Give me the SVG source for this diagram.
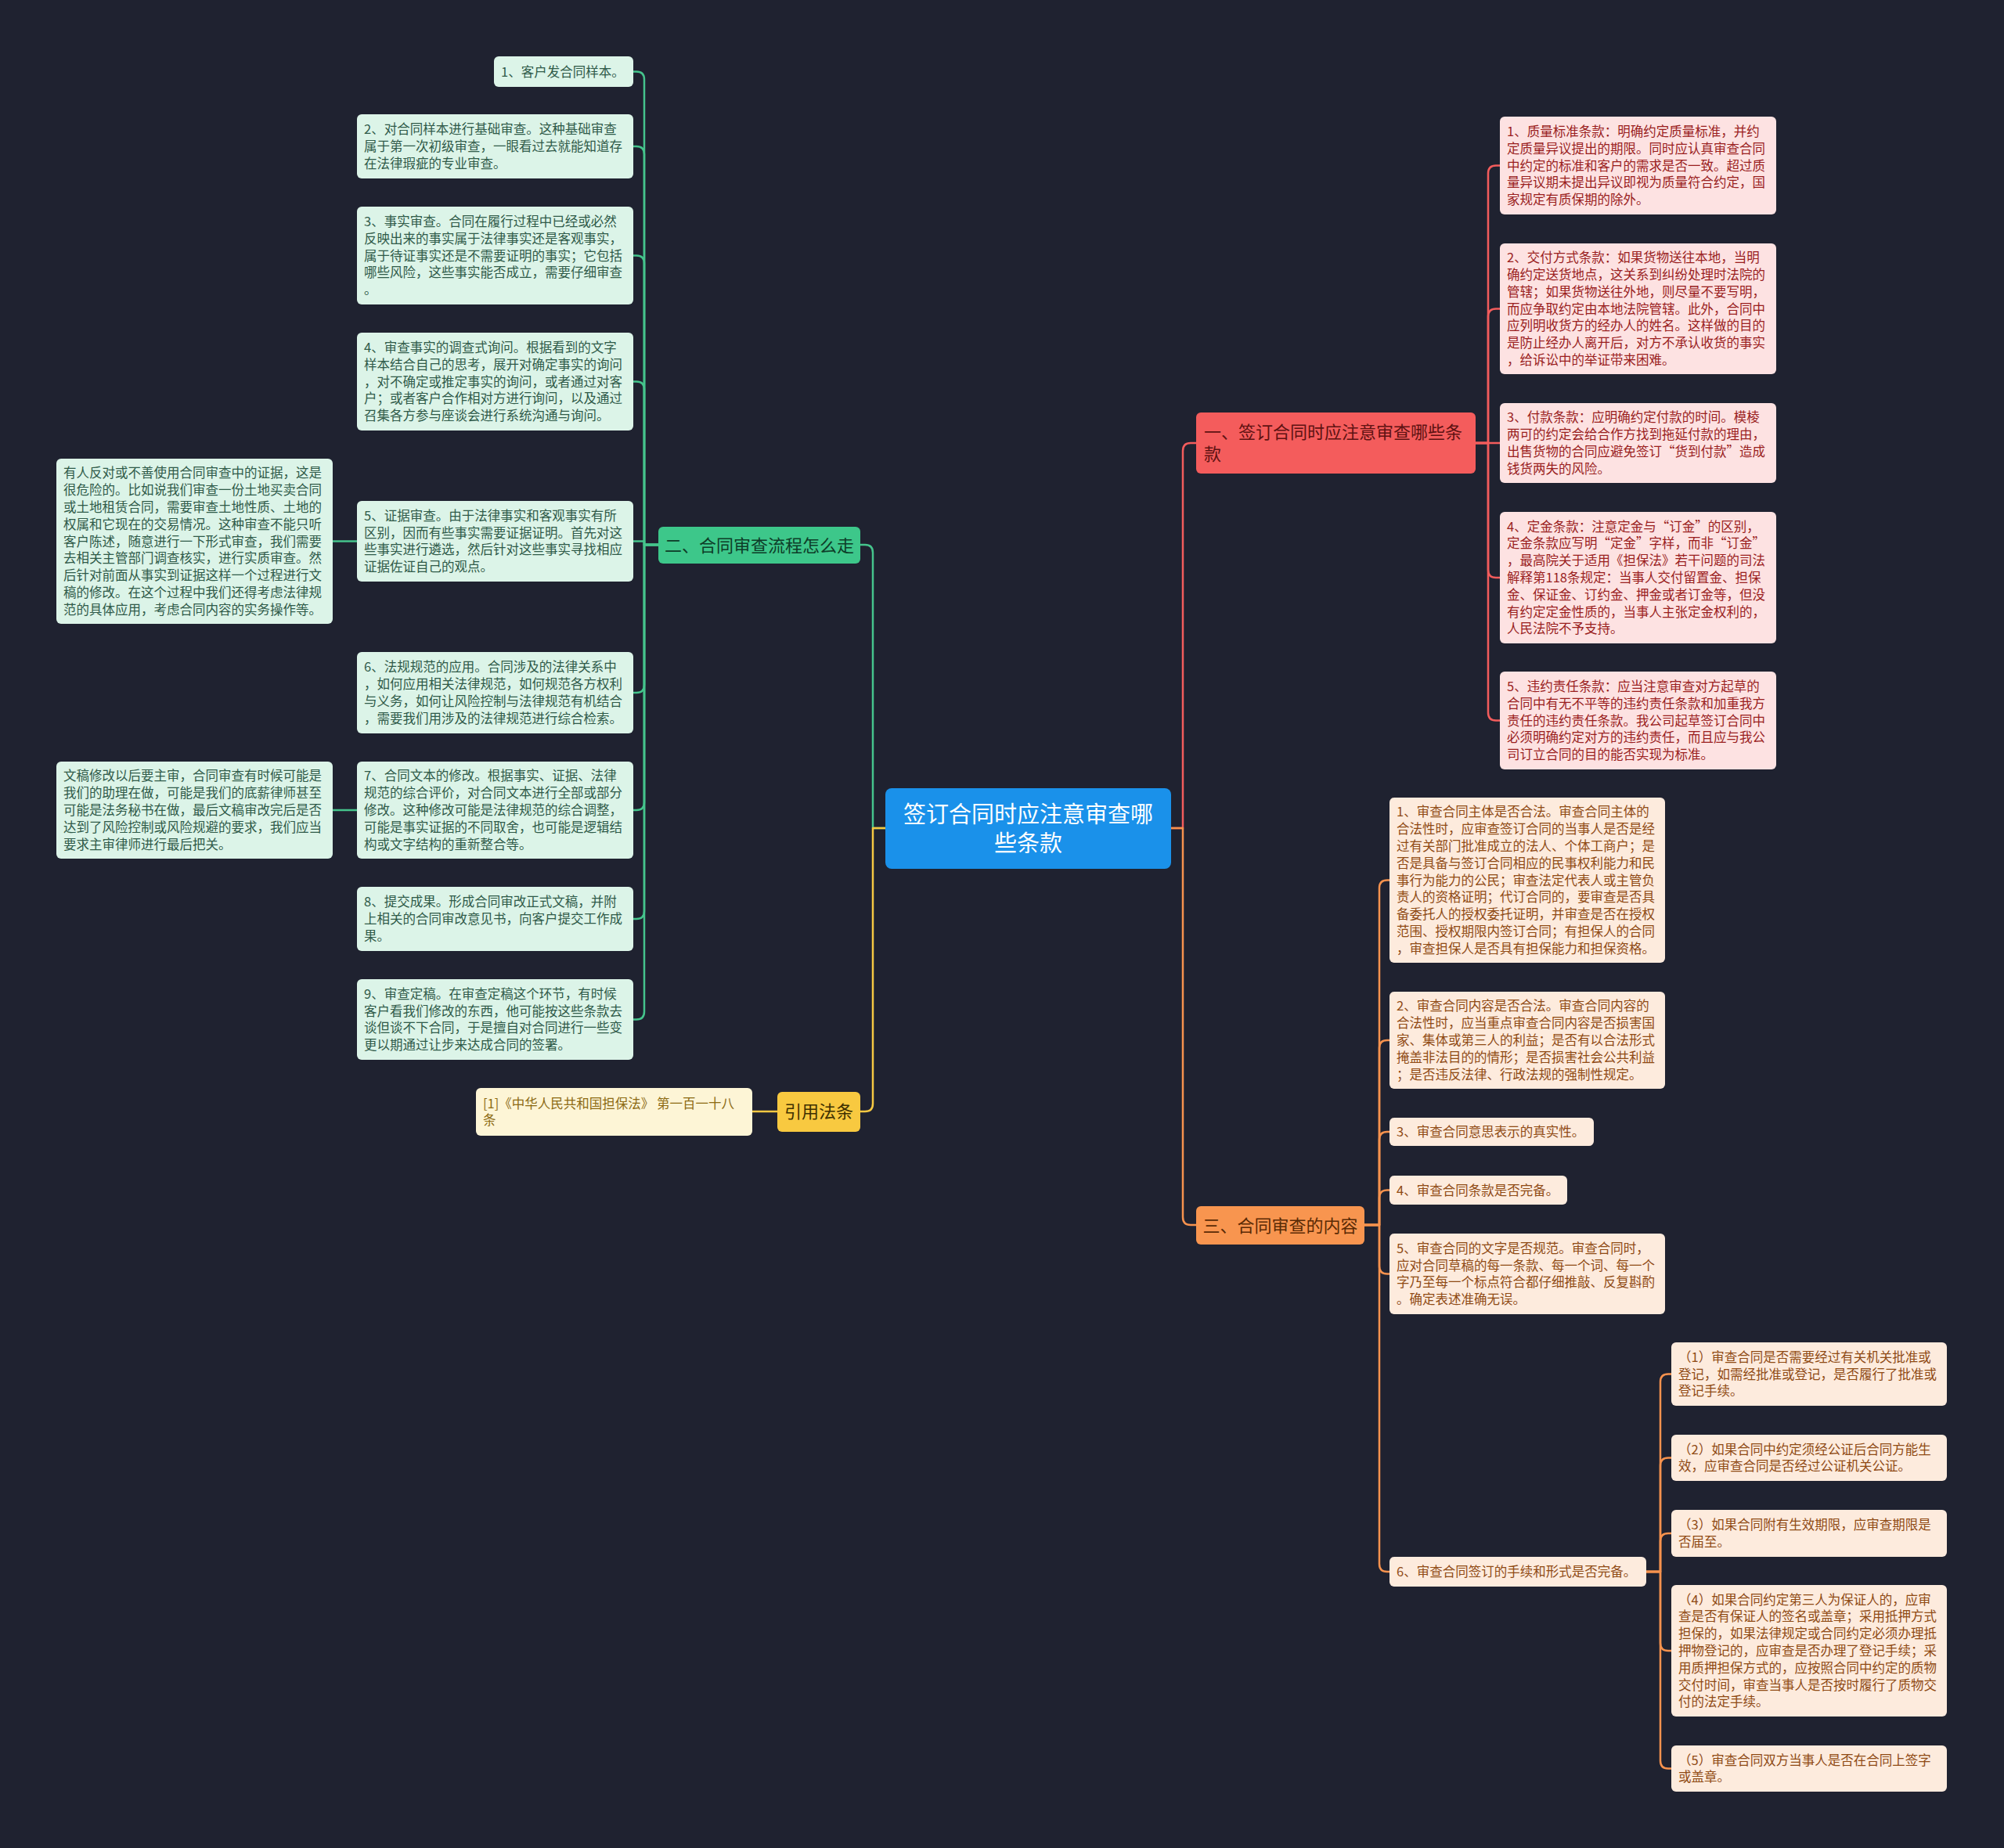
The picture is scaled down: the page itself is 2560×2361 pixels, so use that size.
<svg xmlns="http://www.w3.org/2000/svg" width="2560" height="2361" viewBox="0 0 2560 2361">
<style>
text{font-family:"Noto Sans CJK SC","Noto Sans",sans-serif}
.c{fill:none;stroke-width:2.5;stroke-linejoin:round;stroke-linecap:round}
.cg{stroke:#45c48c}.cr{stroke:#f25c5c}.co{stroke:#f6924e}.cy{stroke:#f5c842}.cb{stroke:#f6924e}
.t{font-size:16.5px}
.gn rect{fill:#dcf4e8}.gn text{fill:#2f5a48}
.rn rect{fill:#fde2e2}.rn text{fill:#9a1e1e}
.on rect{fill:#fdebdd}.on text{fill:#8f4a14}
.yn rect{fill:#fdf5d6}.yn text{fill:#8c6a12}
.m{font-size:22px}
</style>
<rect x="0" y="0" width="2560" height="2361" fill="#1f2230"/>
<g id="connectors">
<path class="c cg" d="M1131,1058 H1115 V706 Q1115,696 1105,696 H1099"/>
<path class="c cy" d="M1131,1058 H1115 V1410 Q1115,1420 1105,1420 H1099"/>
<path class="c cr" d="M1496,1058 H1511 V576 Q1511,566 1521,566 H1528"/>
<path class="c co" d="M1496,1058 H1511 V1555 Q1511,1565 1521,1565 H1528"/>
<path class="c cg" d="M841,696 H823 V101.5 Q823,91.5 813,91.5 H809"/>
<path class="c cg" d="M841,696 H823 V197 Q823,187 813,187 H809"/>
<path class="c cg" d="M841,696 H823 V336.5 Q823,326.5 813,326.5 H809"/>
<path class="c cg" d="M841,696 H823 V497.5 Q823,487.5 813,487.5 H809"/>
<path class="c cg" d="M841,696 H823 V691.5 H809"/>
<path class="c cg" d="M841,696 H823 V875 Q823,885 813,885 H809"/>
<path class="c cg" d="M841,696 H823 V1025 Q823,1035 813,1035 H809"/>
<path class="c cg" d="M841,696 H823 V1164 Q823,1174 813,1174 H809"/>
<path class="c cg" d="M841,696 H823 V1292.5 Q823,1302.5 813,1302.5 H809"/>
<path class="c cg" d="M456,691.5 H425"/>
<path class="c cg" d="M456,1035 H425"/>
<path class="c cy" d="M993,1420 H961"/>
<path class="c cr" d="M1885,566 H1901 V221.5 Q1901,211.5 1911,211.5 H1916"/>
<path class="c cr" d="M1885,566 H1901 V404.5 Q1901,394.5 1911,394.5 H1916"/>
<path class="c cr" d="M1885,566 H1916"/>
<path class="c cr" d="M1885,566 H1901 V728 Q1901,738 1911,738 H1916"/>
<path class="c cr" d="M1885,566 H1901 V910.5 Q1901,920.5 1911,920.5 H1916"/>
<path class="c co" d="M1743,1565 H1762 V1134.5 Q1762,1124.5 1772,1124.5 H1775"/>
<path class="c co" d="M1743,1565 H1762 V1339 Q1762,1329 1772,1329 H1775"/>
<path class="c co" d="M1743,1565 H1762 V1456 Q1762,1446 1772,1446 H1775"/>
<path class="c co" d="M1743,1565 H1762 V1530.5 Q1762,1520.5 1772,1520.5 H1775"/>
<path class="c co" d="M1743,1565 H1762 V1617.5 Q1762,1627.5 1772,1627.5 H1775"/>
<path class="c co" d="M1743,1565 H1762 V1998 Q1762,2008 1772,2008 H1775"/>
<path class="c co" d="M2103,2008 H2121 V1765.5 Q2121,1755.5 2131,1755.5 H2135"/>
<path class="c co" d="M2103,2008 H2121 V1872.5 Q2121,1862.5 2131,1862.5 H2135"/>
<path class="c co" d="M2103,2008 H2121 V1969 Q2121,1959 2131,1959 H2135"/>
<path class="c co" d="M2103,2008 H2121 V2099 Q2121,2109 2131,2109 H2135"/>
<path class="c co" d="M2103,2008 H2121 V2249.5 Q2121,2259.5 2131,2259.5 H2135"/>
</g>
<g id="root">
<rect x="1131" y="1007" width="365" height="103" rx="8" fill="#1a91ea"/>
<text x="1313.5" font-size="29" fill="#ffffff" text-anchor="middle"><tspan x="1313.5" y="1050.5">签订合同时应注意审查哪</tspan><tspan x="1313.5" y="1087.5">些条款</tspan></text>
</g>
<g id="b1">
<rect x="1528" y="527" width="357" height="78" rx="6" fill="#f45c5c"/>
<text class="m" fill="#5e1212"><tspan x="1538" y="560">一、签订合同时应注意审查哪些条</tspan><tspan x="1538" y="588">款</tspan></text>
</g>
<g id="b2">
<rect x="841" y="673" width="258" height="47" rx="6" fill="#3dc78a"/>
<text class="m" fill="#0d3d28" x="970" y="704.5" text-anchor="middle">二、合同审查流程怎么走</text>
</g>
<g id="b3">
<rect x="1528" y="1541" width="215" height="49" rx="6" fill="#f8954f"/>
<text class="m" fill="#5a2a05" x="1635.5" y="1573.5" text-anchor="middle">三、合同审查的内容</text>
</g>
<g id="b4">
<rect x="993" y="1395" width="106" height="51" rx="6" fill="#f8c940"/>
<text class="m" fill="#3d3000" x="1046" y="1428" text-anchor="middle">引用法条</text>
</g>
<g id="g1" class="gn"><rect x="631" y="72" width="178" height="39" rx="6"/><text class="t"><tspan x="640" y="97.5">1、客户发合同样本。</tspan></text></g>
<g id="g2" class="gn"><rect x="456" y="146" width="353" height="82" rx="6"/><text class="t"><tspan x="465" y="171.2">2、对合同样本进行基础审查。这种基础审查</tspan><tspan x="465" y="193">属于第一次初级审查，一眼看过去就能知道存</tspan><tspan x="465" y="214.8">在法律瑕疵的专业审查。</tspan></text></g>
<g id="g3" class="gn"><rect x="456" y="264" width="353" height="125" rx="6"/><text class="t"><tspan x="465" y="288.9">3、事实审查。合同在履行过程中已经或必然</tspan><tspan x="465" y="310.7">反映出来的事实属于法律事实还是客观事实，</tspan><tspan x="465" y="332.5">属于待证事实还是不需要证明的事实；它包括</tspan><tspan x="465" y="354.3">哪些风险，这些事实能否成立，需要仔细审查</tspan><tspan x="465" y="376.1">。</tspan></text></g>
<g id="g4" class="gn"><rect x="456" y="425" width="353" height="125" rx="6"/><text class="t"><tspan x="465" y="449.9">4、审查事实的调查式询问。根据看到的文字</tspan><tspan x="465" y="471.7">样本结合自己的思考，展开对确定事实的询问</tspan><tspan x="465" y="493.5">，对不确定或推定事实的询问，或者通过对客</tspan><tspan x="465" y="515.3">户；或者客户合作相对方进行询问，以及通过</tspan><tspan x="465" y="537.1">召集各方参与座谈会进行系统沟通与询问。</tspan></text></g>
<g id="g5" class="gn"><rect x="456" y="640" width="353" height="103" rx="6"/><text class="t"><tspan x="465" y="664.8">5、证据审查。由于法律事实和客观事实有所</tspan><tspan x="465" y="686.6">区别，因而有些事实需要证据证明。首先对这</tspan><tspan x="465" y="708.4">些事实进行遴选，然后针对这些事实寻找相应</tspan><tspan x="465" y="730.2">证据佐证自己的观点。</tspan></text></g>
<g id="g5a" class="gn"><rect x="72" y="586" width="353" height="211" rx="6"/><text class="t"><tspan x="81" y="610.3">有人反对或不善使用合同审查中的证据，这是</tspan><tspan x="81" y="632.1">很危险的。比如说我们审查一份土地买卖合同</tspan><tspan x="81" y="653.9">或土地租赁合同，需要审查土地性质、土地的</tspan><tspan x="81" y="675.7">权属和它现在的交易情况。这种审查不能只听</tspan><tspan x="81" y="697.5">客户陈述，随意进行一下形式审查，我们需要</tspan><tspan x="81" y="719.3">去相关主管部门调查核实，进行实质审查。然</tspan><tspan x="81" y="741.1">后针对前面从事实到证据这样一个过程进行文</tspan><tspan x="81" y="762.9">稿的修改。在这个过程中我们还得考虑法律规</tspan><tspan x="81" y="784.7">范的具体应用，考虑合同内容的实务操作等。</tspan></text></g>
<g id="g6" class="gn"><rect x="456" y="833" width="353" height="104" rx="6"/><text class="t"><tspan x="465" y="858.3">6、法规规范的应用。合同涉及的法律关系中</tspan><tspan x="465" y="880.1">，如何应用相关法律规范，如何规范各方权利</tspan><tspan x="465" y="901.9">与义务，如何让风险控制与法律规范有机结合</tspan><tspan x="465" y="923.7">，需要我们用涉及的法律规范进行综合检索。</tspan></text></g>
<g id="g7" class="gn"><rect x="456" y="973" width="353" height="124" rx="6"/><text class="t"><tspan x="465" y="997.4">7、合同文本的修改。根据事实、证据、法律</tspan><tspan x="465" y="1019.2">规范的综合评价，对合同文本进行全部或部分</tspan><tspan x="465" y="1041">修改。这种修改可能是法律规范的综合调整，</tspan><tspan x="465" y="1062.8">可能是事实证据的不同取舍，也可能是逻辑结</tspan><tspan x="465" y="1084.6">构或文字结构的重新整合等。</tspan></text></g>
<g id="g7a" class="gn"><rect x="72" y="973" width="353" height="124" rx="6"/><text class="t"><tspan x="81" y="997.4">文稿修改以后要主审，合同审查有时候可能是</tspan><tspan x="81" y="1019.2">我们的助理在做，可能是我们的底薪律师甚至</tspan><tspan x="81" y="1041">可能是法务秘书在做，最后文稿审改完后是否</tspan><tspan x="81" y="1062.8">达到了风险控制或风险规避的要求，我们应当</tspan><tspan x="81" y="1084.6">要求主审律师进行最后把关。</tspan></text></g>
<g id="g8" class="gn"><rect x="456" y="1133" width="353" height="82" rx="6"/><text class="t"><tspan x="465" y="1158.2">8、提交成果。形成合同审改正式文稿，并附</tspan><tspan x="465" y="1180">上相关的合同审改意见书，向客户提交工作成</tspan><tspan x="465" y="1201.8">果。</tspan></text></g>
<g id="g9" class="gn"><rect x="456" y="1251" width="353" height="103" rx="6"/><text class="t"><tspan x="465" y="1275.8">9、审查定稿。在审查定稿这个环节，有时候</tspan><tspan x="465" y="1297.6">客户看我们修改的东西，他可能按这些条款去</tspan><tspan x="465" y="1319.4">谈但谈不下合同，于是擅自对合同进行一些变</tspan><tspan x="465" y="1341.2">更以期通过让步来达成合同的签署。</tspan></text></g>
<g id="y1" class="yn"><rect x="608" y="1390" width="353" height="61" rx="6"/><text class="t"><tspan x="617" y="1415.6">[1]《中华人民共和国担保法》 第一百一十八</tspan><tspan x="617" y="1437.4">条</tspan></text></g>
<g id="r1" class="rn"><rect x="1916" y="149" width="353" height="125" rx="6"/><text class="t"><tspan x="1925" y="173.9">1、质量标准条款：明确约定质量标准，并约</tspan><tspan x="1925" y="195.7">定质量异议提出的期限。同时应认真审查合同</tspan><tspan x="1925" y="217.5">中约定的标准和客户的需求是否一致。超过质</tspan><tspan x="1925" y="239.3">量异议期未提出异议即视为质量符合约定，国</tspan><tspan x="1925" y="261.1">家规定有质保期的除外。</tspan></text></g>
<g id="r2" class="rn"><rect x="1916" y="311" width="353" height="167" rx="6"/><text class="t"><tspan x="1925" y="335.1">2、交付方式条款：如果货物送往本地，当明</tspan><tspan x="1925" y="356.9">确约定送货地点，这关系到纠纷处理时法院的</tspan><tspan x="1925" y="378.7">管辖；如果货物送往外地，则尽量不要写明，</tspan><tspan x="1925" y="400.5">而应争取约定由本地法院管辖。此外，合同中</tspan><tspan x="1925" y="422.3">应列明收货方的经办人的姓名。这样做的目的</tspan><tspan x="1925" y="444.1">是防止经办人离开后，对方不承认收货的事实</tspan><tspan x="1925" y="465.9">，给诉讼中的举证带来困难。</tspan></text></g>
<g id="r3" class="rn"><rect x="1916" y="515" width="353" height="102" rx="6"/><text class="t"><tspan x="1925" y="539.3">3、付款条款：应明确约定付款的时间。模棱</tspan><tspan x="1925" y="561.1">两可的约定会给合作方找到拖延付款的理由，</tspan><tspan x="1925" y="582.9">出售货物的合同应避免签订“货到付款”造成</tspan><tspan x="1925" y="604.7">钱货两失的风险。</tspan></text></g>
<g id="r4" class="rn"><rect x="1916" y="654" width="353" height="168" rx="6"/><text class="t"><tspan x="1925" y="678.6">4、定金条款：注意定金与“订金”的区别，</tspan><tspan x="1925" y="700.4">定金条款应写明“定金”字样，而非“订金”</tspan><tspan x="1925" y="722.2">，最高院关于适用《担保法》若干问题的司法</tspan><tspan x="1925" y="744">解释第118条规定：当事人交付留置金、担保</tspan><tspan x="1925" y="765.8">金、保证金、订约金、押金或者订金等，但没</tspan><tspan x="1925" y="787.6">有约定定金性质的，当事人主张定金权利的，</tspan><tspan x="1925" y="809.4">人民法院不予支持。</tspan></text></g>
<g id="r5" class="rn"><rect x="1916" y="858" width="353" height="125" rx="6"/><text class="t"><tspan x="1925" y="882.9">5、违约责任条款：应当注意审查对方起草的</tspan><tspan x="1925" y="904.7">合同中有无不平等的违约责任条款和加重我方</tspan><tspan x="1925" y="926.5">责任的违约责任条款。我公司起草签订合同中</tspan><tspan x="1925" y="948.3">必须明确约定对方的违约责任，而且应与我公</tspan><tspan x="1925" y="970.1">司订立合同的目的能否实现为标准。</tspan></text></g>
<g id="o1" class="on"><rect x="1775" y="1019" width="352" height="211" rx="6"/><text class="t"><tspan x="1784" y="1043.3">1、审查合同主体是否合法。审查合同主体的</tspan><tspan x="1784" y="1065.1">合法性时，应审查签订合同的当事人是否是经</tspan><tspan x="1784" y="1086.9">过有关部门批准成立的法人、个体工商户；是</tspan><tspan x="1784" y="1108.7">否是具备与签订合同相应的民事权利能力和民</tspan><tspan x="1784" y="1130.5">事行为能力的公民；审查法定代表人或主管负</tspan><tspan x="1784" y="1152.3">责人的资格证明；代订合同的，要审查是否具</tspan><tspan x="1784" y="1174.1">备委托人的授权委托证明，并审查是否在授权</tspan><tspan x="1784" y="1195.9">范围、授权期限内签订合同；有担保人的合同</tspan><tspan x="1784" y="1217.7">，审查担保人是否具有担保能力和担保资格。</tspan></text></g>
<g id="o2" class="on"><rect x="1775" y="1267" width="352" height="124" rx="6"/><text class="t"><tspan x="1784" y="1291.4">2、审查合同内容是否合法。审查合同内容的</tspan><tspan x="1784" y="1313.2">合法性时，应当重点审查合同内容是否损害国</tspan><tspan x="1784" y="1335">家、集体或第三人的利益；是否有以合法形式</tspan><tspan x="1784" y="1356.8">掩盖非法目的的情形；是否损害社会公共利益</tspan><tspan x="1784" y="1378.6">；是否违反法律、行政法规的强制性规定。</tspan></text></g>
<g id="o3" class="on"><rect x="1775" y="1428" width="261" height="36" rx="6"/><text class="t"><tspan x="1784" y="1452">3、审查合同意思表示的真实性。</tspan></text></g>
<g id="o4" class="on"><rect x="1775" y="1502" width="227" height="37" rx="6"/><text class="t"><tspan x="1784" y="1526.5">4、审查合同条款是否完备。</tspan></text></g>
<g id="o5" class="on"><rect x="1775" y="1576" width="352" height="103" rx="6"/><text class="t"><tspan x="1784" y="1600.8">5、审查合同的文字是否规范。审查合同时，</tspan><tspan x="1784" y="1622.6">应对合同草稿的每一条款、每一个词、每一个</tspan><tspan x="1784" y="1644.4">字乃至每一个标点符合都仔细推敲、反复斟酌</tspan><tspan x="1784" y="1666.2">。确定表述准确无误。</tspan></text></g>
<g id="o6" class="on"><rect x="1775" y="1989" width="328" height="38" rx="6"/><text class="t"><tspan x="1784" y="2014">6、审查合同签订的手续和形式是否完备。</tspan></text></g>
<g id="s1" class="on"><rect x="2135" y="1715" width="352" height="81" rx="6"/><text class="t"><tspan x="2144" y="1739.7">（1）审查合同是否需要经过有关机关批准或</tspan><tspan x="2144" y="1761.5">登记，如需经批准或登记，是否履行了批准或</tspan><tspan x="2144" y="1783.3">登记手续。</tspan></text></g>
<g id="s2" class="on"><rect x="2135" y="1833" width="352" height="59" rx="6"/><text class="t"><tspan x="2144" y="1857.6">（2）如果合同中约定须经公证后合同方能生</tspan><tspan x="2144" y="1879.4">效，应审查合同是否经过公证机关公证。</tspan></text></g>
<g id="s3" class="on"><rect x="2135" y="1929" width="352" height="60" rx="6"/><text class="t"><tspan x="2144" y="1954.1">（3）如果合同附有生效期限，应审查期限是</tspan><tspan x="2144" y="1975.9">否届至。</tspan></text></g>
<g id="s4" class="on"><rect x="2135" y="2025" width="352" height="168" rx="6"/><text class="t"><tspan x="2144" y="2049.6">（4）如果合同约定第三人为保证人的，应审</tspan><tspan x="2144" y="2071.4">查是否有保证人的签名或盖章；采用抵押方式</tspan><tspan x="2144" y="2093.2">担保的，如果法律规定或合同约定必须办理抵</tspan><tspan x="2144" y="2115">押物登记的，应审查是否办理了登记手续；采</tspan><tspan x="2144" y="2136.8">用质押担保方式的，应按照合同中约定的质物</tspan><tspan x="2144" y="2158.6">交付时间，审查当事人是否按时履行了质物交</tspan><tspan x="2144" y="2180.4">付的法定手续。</tspan></text></g>
<g id="s5" class="on"><rect x="2135" y="2230" width="352" height="59" rx="6"/><text class="t"><tspan x="2144" y="2254.6">（5）审查合同双方当事人是否在合同上签字</tspan><tspan x="2144" y="2276.4">或盖章。</tspan></text></g>
</svg>
